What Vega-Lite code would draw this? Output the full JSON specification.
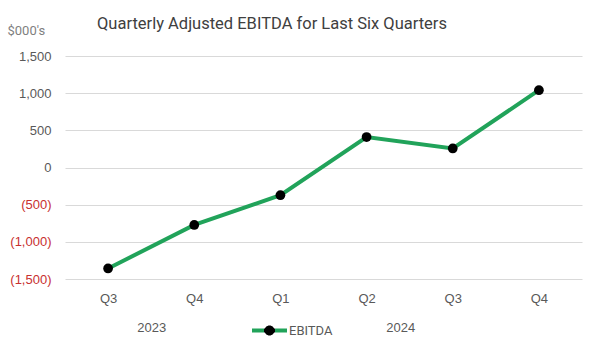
{
  "$schema": "https://vega.github.io/schema/vega-lite/v6.json",
  "autosize": "none",
  "width": 517,
  "height": 223,
  "padding": {"left": 65, "top": 56, "right": 17, "bottom": 74},
  "background": "white",
  "title": {
    "text": "Quarterly Adjusted EBITDA for Last Six Quarters",
    "anchor": "start",
    "frame": "group",
    "dx": 32,
    "dy": 30,
    "offset": 22,
    "font": "Roboto, sans-serif",
    "fontSize": 16.5,
    "fontWeight": "normal",
    "color": "#404040"
  },
  "config": {
    "view": {"stroke": null},
    "axis": {"labelFont": "Liberation Sans, Arial, sans-serif", "labelFontSize": 13, "labelColor": "#595959", "domain": false, "ticks": false, "labelOverlap": false}
  },
  "data": {
    "values": [
      {"idx": 1, "quarter": "Q3", "year": "2023", "ebitda": -1358},
      {"idx": 2, "quarter": "Q4", "year": "2023", "ebitda": -773},
      {"idx": 3, "quarter": "Q1", "year": "2024", "ebitda": -373},
      {"idx": 4, "quarter": "Q2", "year": "2024", "ebitda": 410},
      {"idx": 5, "quarter": "Q3", "year": "2024", "ebitda": 256},
      {"idx": 6, "quarter": "Q4", "year": "2024", "ebitda": 1040}
    ]
  },
  "layer": [
    {
      "mark": {"type": "line", "strokeWidth": 4},
      "encoding": {
        "x": {
          "field": "idx", "type": "quantitative",
          "scale": {"domain": [0.5, 6.5], "nice": false, "zero": false},
          "axis": {
            "orient": "bottom",
            "values": [1, 2, 3, 4, 5, 6],
            "labelExpr": "['','Q3','Q4','Q1','Q2','Q3','Q4'][datum.value]",
            "grid": false, "title": null, "labelPadding": 13
          }
        },
        "y": {
          "field": "ebitda", "type": "quantitative",
          "scale": {"domain": [-1500, 1500], "nice": false},
          "axis": {
            "values": [-1500, -1000, -500, 0, 500, 1000, 1500],
            "tickCount": 7,
            "labelOverlap": false,
            "labelBound": false,
            "labelExpr": "datum.value < 0 ? '(' + format(-datum.value, ',') + ')' : format(datum.value, ',') + '\u00a0'",
            "labelColor": {"condition": {"test": "datum.value < 0", "value": "#C8302F"}, "value": "#595959"},
            "labelPadding": 14,
            "grid": true, "gridColor": "#D9D9D9", "gridWidth": 1.2,
            "title": "$000's",
            "titleAngle": 0, "titleAlign": "left", "titleBaseline": "middle",
            "titleX": -58, "titleY": -26,
            "titleFont": "Liberation Sans Narrow, Roboto, sans-serif",
            "titleFontSize": 13, "titleFontWeight": "normal", "titleColor": "#7F7F7F"
          }
        },
        "color": {
          "datum": "EBITDA",
          "scale": {"range": ["#21A35A"]},
          "legend": {
            "title": null,
            "orient": "none",
            "legendX": 187,
            "legendY": 257,
            "symbolType": "M-1,-0.114H1V0.114H-1Z M-0.286,0A0.286,0.286 0 1,1 0.286,0A0.286,0.286 0 1,1 -0.286,0Z",
            "symbolSize": 1225,
            "symbolStrokeWidth": 0,
            "labelFont": "Liberation Sans Narrow, Roboto, sans-serif",
            "labelFontSize": 13,
            "labelColor": "#595959",
            "labelOffset": 2,
            "padding": 0,
            "encode": {"symbols": {"update": {
              "fill": {"value": {"gradient": "linear", "x1": 0, "y1": 0, "x2": 1, "y2": 0, "stops": [
                {"offset": 0, "color": "#21A35A"}, {"offset": 0.355, "color": "#21A35A"},
                {"offset": 0.355, "color": "black"}, {"offset": 0.645, "color": "black"},
                {"offset": 0.645, "color": "#21A35A"}, {"offset": 1, "color": "#21A35A"}]}},
              "stroke": {"value": "transparent"},
              "strokeWidth": {"value": 0},
              "opacity": {"value": 1},
              "fillOpacity": {"value": 1}
            }}}
          }
        }
      }
    },
    {
      "mark": {"type": "point", "filled": true, "color": "black", "size": 95, "opacity": 1},
      "encoding": {
        "x": {
          "field": "idx", "type": "quantitative",
          "scale": {"domain": [0.5, 6.5], "nice": false, "zero": false},
          "axis": {
            "orient": "bottom",
            "values": [1.5, 4.39],
            "labelExpr": "datum.value < 3 ? '2023' : '2024'",
            "grid": false, "title": null, "labelPadding": 42
          }
        },
        "y": {"field": "ebitda", "type": "quantitative", "axis": {"labelOverlap": false}}
      }
    }
  ],
  "resolve": {"axis": {"x": "independent"}}
}
